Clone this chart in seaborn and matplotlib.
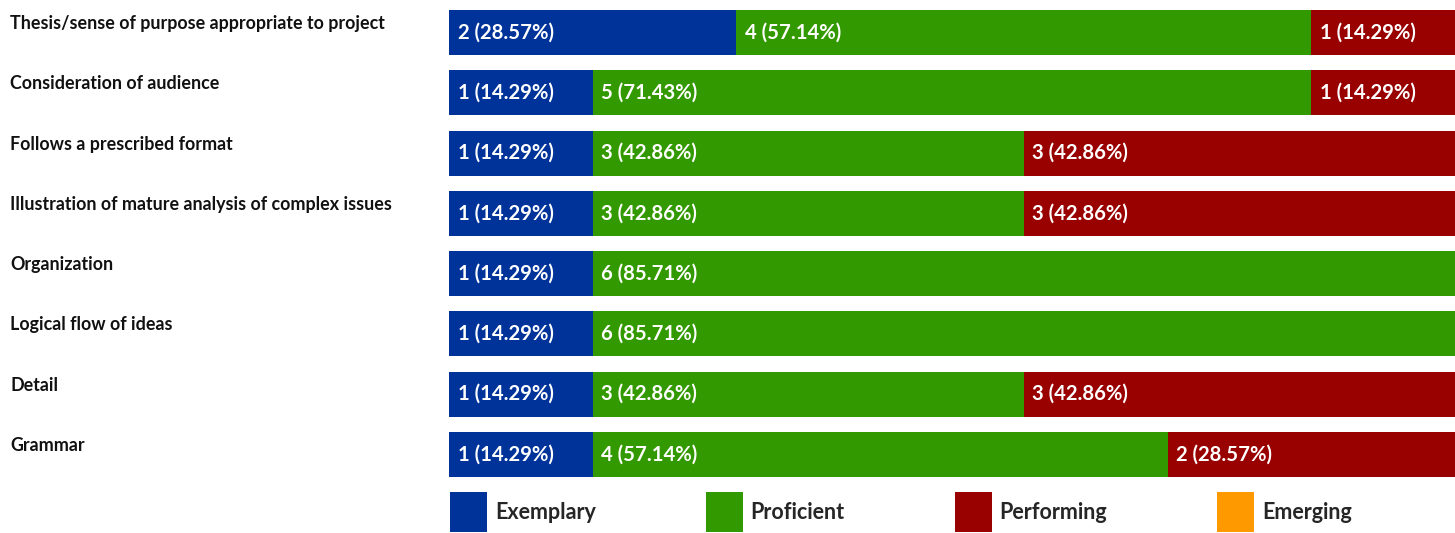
import numpy as np
import pandas as pd
import matplotlib
matplotlib.use("Agg")
import matplotlib.pyplot as plt
import matplotlib.transforms as mtransforms
from matplotlib.patches import Patch
import seaborn as sns

# rubric criteria and counts per rating (7 responses)
criteria = [
    "Thesis/sense of purpose appropriate to project",
    "Consideration of audience",
    "Follows a prescribed format",
    "Illustration of mature analysis of complex issues",
    "Organization",
    "Logical flow of ideas",
    "Detail",
    "Grammar",
]
ratings = ["Exemplary", "Proficient", "Performing", "Emerging"]
exemplary = [2, 1, 1, 1, 1, 1, 1, 1]
proficient = [4, 5, 3, 3, 6, 6, 3, 4]
performing = [1, 1, 3, 3, 0, 0, 3, 2]
emerging = [0, 0, 0, 0, 0, 0, 0, 0]
colors = ["#003399", "#339900", "#990000", "#FF9900"]

sns.set_theme(style="white")
plt.rcParams["font.family"] = ["Lato", "DejaVu Sans"]
plt.rcParams["font.weight"] = "bold"

counts = pd.DataFrame(
    {"Exemplary": exemplary, "Proficient": proficient,
     "Performing": performing, "Emerging": emerging},
    index=criteria,
)
total = counts.sum(axis=1)
pct = counts.div(total, axis=0) * 100
cum = pct.cumsum(axis=1)

fig = plt.figure(figsize=(14.55, 5.33), dpi=100)
ax = fig.add_axes([449 / 1455, 1 - 477 / 533, 1 - 449 / 1455, 467 / 533])

# draw cumulative bars back to front so they look stacked
for rating, color in reversed(list(zip(ratings, colors))):
    sns.barplot(x=cum[rating].values, y=criteria, orient="h", color=color,
                width=0.75, saturation=1, ax=ax, linewidth=0)

ax.set_xlim(0, 100)
ax.set_ylim(len(criteria) - 0.5 - 0.125, -0.5 + 0.125)
ax.axis("off")

# segment labels
for i, crit in enumerate(criteria):
    left = 0
    for rating in ratings:
        n = counts.loc[crit, rating]
        p = pct.loc[crit, rating]
        if n > 0:
            ax.text(left + 0.85, i, f"{n} ({p:.2f}%)", color="white",
                    fontsize=14.6, fontweight="bold", va="center", ha="left")
        left += p

# category labels on the left
trans = mtransforms.blended_transform_factory(fig.transFigure, ax.transData)
for i, crit in enumerate(criteria):
    ax.text(10 / 1455, i - 0.15, crit, transform=trans, fontsize=12.9,
            fontweight="bold", color="#111111", va="center", ha="left")

handles = [Patch(facecolor=c, edgecolor="none", label=r) for r, c in zip(ratings, colors)]
fig.legend(handles=handles, loc="lower left", bbox_to_anchor=(449 / 1455, 0.0),
           ncol=4, frameon=False, handlelength=1.72, handleheight=2.48,
           handletextpad=0.37, columnspacing=5.1, borderpad=0, borderaxespad=0.05,
           prop={"family": ["Lato", "DejaVu Sans"], "weight": "bold", "size": 15.5})

fig.savefig("out.png", dpi=100)
